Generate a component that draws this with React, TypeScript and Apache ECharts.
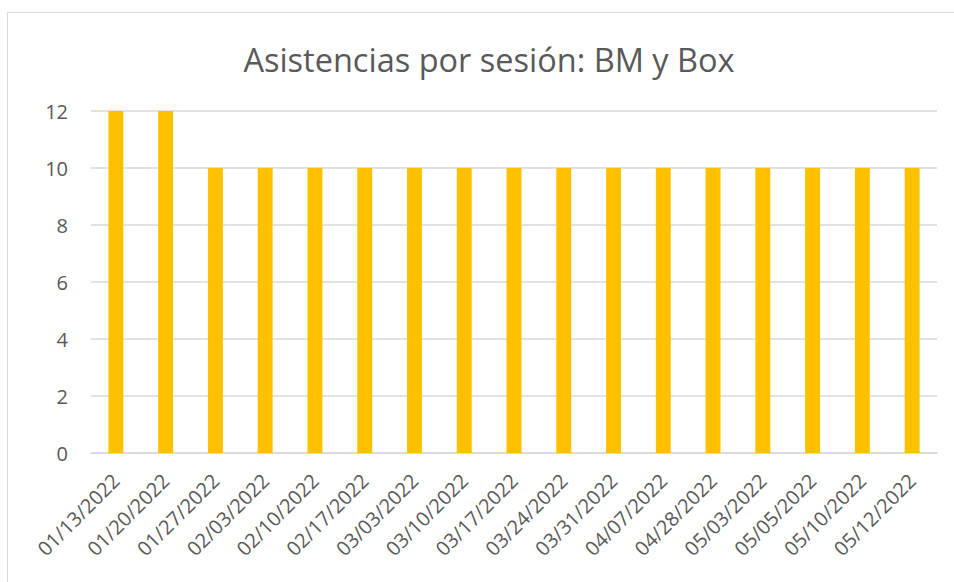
import React, { useEffect, useRef } from "react";
import * as echarts from "echarts";

const categories = [
  "01/13/2022", "01/20/2022", "01/27/2022", "02/03/2022", "02/10/2022", "02/17/2022",
  "03/03/2022", "03/10/2022", "03/17/2022", "03/24/2022", "03/31/2022", "04/07/2022",
  "04/28/2022", "05/03/2022", "05/05/2022", "05/10/2022", "05/12/2022",
];
const asistencias = [12, 12, 10, 10, 10, 10, 10, 10, 10, 10, 10, 10, 10, 10, 10, 10, 10];
const titleText = "Asistencias por sesión: BM y Box";

const FONT = "'Open Sans', 'Noto Sans', sans-serif";
const TEXT = "#595959";

export default function App() {
  const ref = useRef<HTMLDivElement>(null);
  useEffect(() => {
    if (!ref.current) return;
    const chart = echarts.init(ref.current, null, { renderer: "svg" });
    chart.setOption({
      animation: false,
      backgroundColor: "#ffffff",
      textStyle: { fontFamily: FONT },
      title: {
        text: titleText,
        left: 484,
        top: 38,
        textAlign: "center",
        textStyle: { fontFamily: FONT, fontSize: 32.5, fontWeight: "normal", color: TEXT },
      },
      graphic: [
        {
          type: "rect",
          shape: { x: 7.5, y: 12.5, width: 960, height: 600 },
          style: { fill: "none", stroke: "#D9D9D9", lineWidth: 1 },
          silent: true,
          z: -1,
        },
      ],
      grid: { left: 91, right: 17, top: 111, bottom: 129, containLabel: false },
      xAxis: {
        type: "category",
        data: categories,
        axisTick: { show: false },
        axisLine: { lineStyle: { color: "#D9D9D9", width: 1.5 } },
        axisLabel: {
          rotate: 45,
          interval: 0,
          margin: 24,
          color: TEXT,
          fontSize: 20,
          fontFamily: FONT,
        },
      },
      yAxis: {
        type: "value",
        min: 0,
        max: 12,
        interval: 2,
        axisLine: { show: false },
        axisTick: { show: false },
        splitLine: { lineStyle: { color: "#D9D9D9", width: 1.5 } },
        axisLabel: { color: TEXT, fontSize: 20, fontFamily: FONT, margin: 23 },
      },
      series: [
        {
          type: "bar",
          data: asistencias,
          barWidth: "30%",
          itemStyle: { color: "#FFC000" },
        },
      ],
    });
    return () => chart.dispose();
  }, []);
  return (
    <div
      ref={ref}
      style={{ position: "fixed", left: 0, top: 0, width: 954, height: 582, background: "#fff" }}
    />
  );
}
